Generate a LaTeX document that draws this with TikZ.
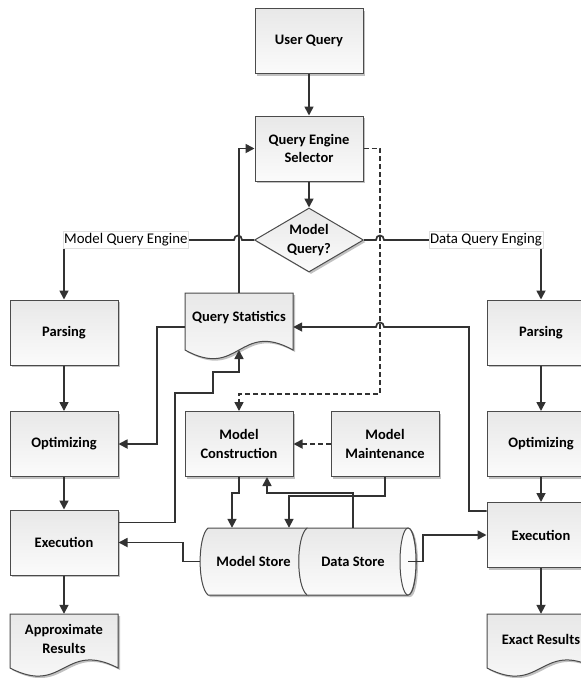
\documentclass[tikz,border=0pt]{standalone}
\usepackage{fontspec}
\setmainfont{Carlito}
\usetikzlibrary{shapes.geometric,arrows.meta,shadows}
\definecolor{linec}{RGB}{50,50,50}
\definecolor{bordc}{RGB}{75,75,75}
\definecolor{fillt}{RGB}{232,232,232}
\definecolor{fillb}{RGB}{251,251,251}
\tikzset{
  shp/.style={draw=bordc, line width=1pt, top color=fillt, bottom color=fillb,
    drop shadow={shadow xshift=2pt, shadow yshift=-2pt, fill=black!40, opacity=0.6}},
  boxfont/.style={font=\bfseries\fontsize{14.5}{18.5}\selectfont},
  box/.style={shp, rectangle, minimum width=108pt, minimum height=65pt, inner sep=0pt, align=center, boxfont},
  txt/.style={inner sep=0pt, align=center, boxfont},
  dec/.style={shp, diamond, aspect=1.7, minimum width=109pt, minimum height=64pt, inner sep=0pt, align=center, boxfont},
  conn/.style={draw=linec, line width=1.7pt, -{Triangle[length=9pt,width=9pt]}},
  dconn/.style={conn, dash pattern=on 5pt off 3pt},
  lab/.style={fill=white, draw=gray!25, line width=0.4pt, inner xsep=1pt, inner ysep=2pt, font=\fontsize{14.8}{17}\selectfont},
}
\begin{document}
\begin{tikzpicture}[x=1pt, y=-1pt]
\useasboundingbox (0,0) rectangle (581,678);
\fill[white] (0,0) rectangle (581,678);
\clip (0,0) rectangle (581,678);

% document shapes
\filldraw[shp] (185,293) -- (293,293) -- (293,350) .. controls (239,320) and (239,380) .. (185,350) -- cycle;
\filldraw[shp] (10,614) -- (118,614) -- (118,668) .. controls (64,640) and (64,696) .. (10,668) -- cycle;
\filldraw[shp] (487,614) -- (595,614) -- (595,668) .. controls (541,640) and (541,696) .. (487,668) -- cycle;

% cylinders
\filldraw[shp] (208,528) -- (307,528) -- (307,595) -- (208,595) .. controls (197.5,586) and (197.5,537) .. (208,528) -- cycle;
\filldraw[shp] (307,528) -- (408,528) .. controls (418.7,528) and (418.7,595) .. (408,595) -- (307,595) .. controls (296,586) and (296,537) .. (307,528) -- cycle;
\draw[draw=bordc, line width=1pt, fill=fillb] (408,561.5) ellipse [x radius=8, y radius=33.5];

% nodes
\node[box] (uq) at (309,41) {User Query};
\node[box] (qes) at (309,148.5) {Query Engine\\Selector};
\node[dec] (dia) at (309,240) {Model\\Query?};
\node[box] (pL) at (64,332.5) {Parsing};
\node[box] (oL) at (64,444) {Optimizing};
\node[box] (eL) at (64,542.5) {Execution};
\node[txt, minimum width=108pt, minimum height=50pt] (arL) at (64,639) {Approximate\\Results};
\node[box] (pR) at (541,332.5) {Parsing};
\node[box] (oR) at (541,444) {Optimizing};
\node[box] (eR) at (541,535) {Execution};
\node[txt, minimum width=108pt, minimum height=50pt] (erR) at (541,639) {Exact Results};
\node[txt, minimum width=108pt, minimum height=50pt] (qs) at (239,318) {Query Statistics};
\node[box] (mc) at (239,444) {Model\\Construction};
\node[box] (mm) at (385,444) {Model\\Maintenance};
\node[txt, minimum width=107pt, minimum height=67pt] (ms) at (253.5,561.5) {Model Store};
\node[txt, minimum width=110pt, minimum height=67pt] (ds) at (353,561.5) {Data Store};

% connectors
\draw[conn] (uq) -- (qes);
\draw[conn] (qes) -- (dia);
\draw[conn] (dia.west) -- (242,240) .. controls (242,234) and (234,234) .. (234,240) -- (pL.north |- dia.west) -- (pL.north);
\draw[conn] (dia.east) -- (376,240) .. controls (376,234) and (384,234) .. (384,240) -- (pR.north |- dia.east) -- (pR.north);
\node[lab, anchor=west] (lml) at (63,240) {Model Query Engine};
\node[lab, anchor=east] (ldq) at (543,240) {Data Query Enging};
\draw[conn] (pL) -- (oL);
\draw[conn] (oL) -- (eL);
\draw[conn] (eL) -- (arL);
\draw[conn] (pR) -- (oR);
\draw[conn] (oR) -- (eR);
\draw[conn] (eR) -- (erR);
\draw[conn] (qs.north) -- (qs.north |- qes.west) -- (qes.west);
\draw[conn] ([yshift=-9pt]qs.west) -- (157,327) -- (157,444) -- (oL.east);
\coordinate (qsbot) at (239,350);
\draw[conn] ([yshift=20pt]eL.east) -- (175,522.5) -- (175,393) -- (213,393) -- (213,372) -- (239,372) -- (qsbot);
\draw[conn] ([yshift=24pt]eR.west) -- (469,511) -- (469,327) -- (384,327) .. controls (384,321) and (376,321) .. (376,327) -- ([yshift=-9pt]qs.east);
\draw[dconn] (qes.east) -- (380,148.5) -- (380,394) -- (239,394) -- (mc.north);
\draw[dconn] (mm.west) -- (mc.east);
\draw[conn] (mc.south) -- (239,493) -- (232,493) -- ([xshift=-21.5pt]ms.north);
\draw[conn] (ds.north) -- (353,493) -- (267,493) -- ([xshift=28pt]mc.south);
\draw[conn] (mm.south) -- (385,496) -- (289,496) -- ([xshift=35.5pt]ms.north);
\draw[conn] (ds.east) -- (423,561.5) -- (423,535) -- (eR.west);
\draw[conn] (ms.west) -- (183,561.5) -- (183,542.5) -- (eL.east);
\end{tikzpicture}
\end{document}
